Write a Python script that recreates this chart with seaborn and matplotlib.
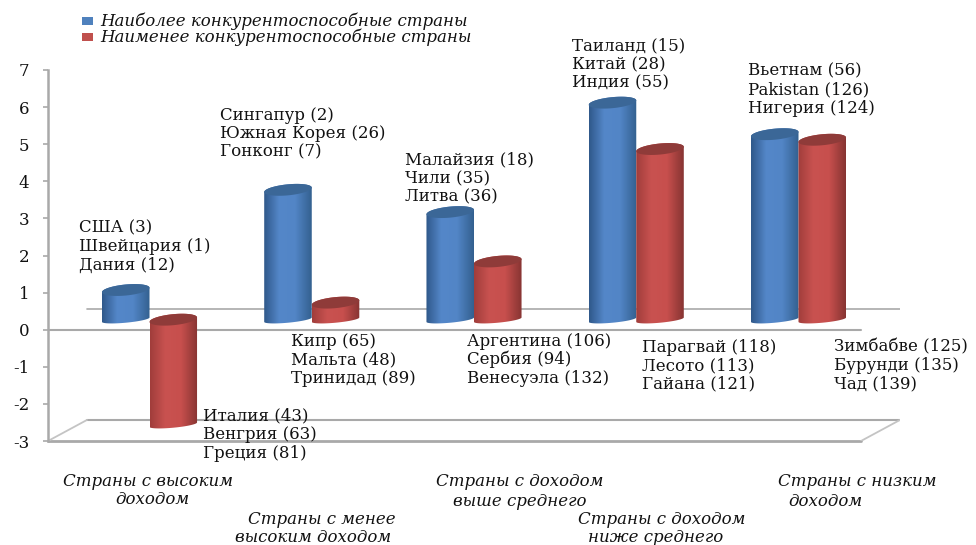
import numpy as np
import pandas as pd
import matplotlib
matplotlib.use('Agg')
import matplotlib.pyplot as plt
from matplotlib.colors import LinearSegmentedColormap
from matplotlib.patches import Polygon
import seaborn as sns

# Values
categories = ['Страны с высоким доходом', 'Страны с менее высоким доходом',
              'Страны с доходом выше среднего', 'Страны с доходом ниже среднего',
              'Страны с низким доходом']
most_competitive = [0.8, 3.5, 2.9, 5.85, 5.0]
least_competitive = [-2.83, 0.46, 1.57, 4.6, 4.85]
series_names = ['Наиболее конкурентоспособные страны', 'Наименее конкурентоспособные страны']
y_ticks = [-3, -2, -1, 0, 1, 2, 3, 4, 5, 6, 7]

top_labels = [
    ['США (3)', 'Швейцария (1)', 'Дания (12)'],
    ['Сингапур (2)', 'Южная Корея (26)', 'Гонконг (7)'],
    ['Малайзия (18)', 'Чили (35)', 'Литва (36)'],
    ['Таиланд (15)', 'Китай (28)', 'Индия (55)'],
    ['Вьетнам (56)', 'Pakistan (126)', 'Нигерия (124)'],
]
low_labels = [
    ['Италия (43)', 'Венгрия (63)', 'Греция (81)'],
    ['Кипр (65)', 'Мальта (48)', 'Тринидад (89)'],
    ['Аргентина (106)', 'Сербия (94)', 'Венесуэла (132)'],
    ['Парагвай (118)', 'Лесото (113)', 'Гайана (121)'],
    ['Зимбабве (125)', 'Бурунди (135)', 'Чад (139)'],
]
category_lines = [
    ['Страны с высоким', 'доходом'],
    ['Страны с менее', 'высоким доходом'],
    ['Страны с доходом', 'выше среднего'],
    ['Страны с доходом', 'ниже среднего'],
    ['Страны с низким', 'доходом'],
]

W, H = 976, 545
GREY = '#a9a9a9'
TEXT = '#111111'
FONT_SIZE = 12

sns.set_theme(style='white')
# the text in the picture is stretched sideways, DejaVu Serif has about that width
plt.rcParams['font.family'] = ['DejaVu Serif']
plt.rcParams['axes.unicode_minus'] = False

df = pd.DataFrame({
    'category': categories * 2,
    'series': [series_names[0]] * 5 + [series_names[1]] * 5,
    'value': most_competitive + least_competitive,
})

fig = plt.figure(figsize=(W / 100, H / 100), dpi=100)
# axes cover the y axis (x 48..900, y 70..441 in pixels)
ax = fig.add_axes([48 / W, 1 - 441 / H, 852 / W, 371 / H])

# the 3d floor sits a bit above the zero of the axis
base = 0.27
sns.barplot(data=df, x='category', y='value', hue='series', hue_order=series_names,
            palette=['#4f81bd', '#c0504d'], width=0.586, gap=0, bottom=base,
            saturation=1, legend=False, ax=ax)

ax.set_xlim(-0.6256, 4.6256)
ax.set_ylim(-3, 7)
ax.autoscale(False)

blue_map = LinearSegmentedColormap.from_list('b', [(0, '#2f588a'), (0.32, '#5487c9'), (0.65, '#5285c6'), (1, '#33608f')])
red_map = LinearSegmentedColormap.from_list('r', [(0, '#a03d3b'), (0.32, '#c95250'), (0.65, '#c74f4d'), (1, '#863432')])
gradient = np.linspace(0, 1, 256).reshape(1, -1)

cap_h = 5.5 / 37
tilt = 2.2 / 37


def arc(cx, cy, half_w, t, flat=1.0):
    return np.column_stack([cx + half_w * np.cos(t), cy + flat * cap_h * np.sin(t) + tilt * np.cos(t)])


z = 3
for container, cmap, cap_col in zip(ax.containers, [blue_map, red_map], ['#3b6797', '#8f3b39']):
    for bar in container:
        x0, w = bar.get_x(), bar.get_width()
        y0, h = bar.get_y(), bar.get_height()
        bar.set_visible(False)
        cx, half_w = x0 + w / 2, w / 2
        top, bot = max(y0, y0 + h), min(y0, y0 + h)
        outline = np.vstack([arc(cx, top, half_w, np.linspace(0, np.pi, 60)),
                             arc(cx, bot, half_w, np.linspace(np.pi, 2 * np.pi, 60), flat=0.55)])
        body = Polygon(outline, closed=True, facecolor='none', edgecolor='none', zorder=z)
        ax.add_patch(body)
        im = ax.imshow(gradient, extent=[x0, x0 + w, bot - 1, top + 1], cmap=cmap,
                       aspect='auto', zorder=z, interpolation='bilinear')
        im.set_clip_path(body)
        ax.add_patch(Polygon(arc(cx, top, half_w, np.linspace(0, 2 * np.pi, 80)), closed=True,
                             facecolor=cap_col, edgecolor='none', zorder=z))
        z += 1

# floor of the 3d frame
depth_y = 21 / 37
depth_x = 39 / 852
ax.axhline(0, 0, 1 - depth_x, color=GREY, lw=1.5, zorder=1)
ax.axhline(depth_y, depth_x, 1, color=GREY, lw=1.2, zorder=1)
ax.axhline(-3, 0, 1 - depth_x, color=GREY, lw=2.0, zorder=1, clip_on=False)
ax.axhline(-3 + depth_y, depth_x, 1, color=GREY, lw=1.5, zorder=1)
trans = ax.get_yaxis_transform()
ax.plot([0, depth_x], [-3, -3 + depth_y], color='#c4c4c4', lw=1.3, transform=trans, zorder=1)
ax.plot([1 - depth_x, 1], [-3, -3 + depth_y], color='#c4c4c4', lw=1.3, transform=trans, zorder=1)

sns.despine(ax=ax, top=True, right=True, bottom=True)
ax.spines['left'].set_color(GREY)
ax.spines['left'].set_linewidth(1.8)
ax.set_yticks(y_ticks)
ax.set_xticks([])
ax.set_xlabel('')
ax.set_ylabel('')
ax.tick_params(axis='y', left=True, length=3.6, width=1.2, color=GREY, pad=10, labelsize=FONT_SIZE, labelcolor=TEXT)


def put(x, y, s, **kw):
    fig.text(x / W, 1 - y / H, s, va='center', color=TEXT, **kw)


# pixel layout of the country lists: left edge and the y of each line
top_pos = [(79, 228), (220, 115), (405, 160), (572, 46), (748, 71)]
low_pos = [(203, 416), (291, 341), (467, 341), (642, 347), (834, 347)]
for lines, (x, y) in zip(top_labels + low_labels, top_pos + low_pos):
    for i, line in enumerate(lines):
        put(x, y + i * 18.6, line, fontsize=FONT_SIZE, ha='left')

# income group captions, second line is not quite centred under the first
cat_pos = [((148, 481), (152, 500)), ((322, 520), (313, 538)), ((520, 481), (520, 501)),
           ((662, 520), (656, 538)), ((857, 481), (825, 501))]
for lines, positions in zip(category_lines, cat_pos):
    for line, (x, y) in zip(lines, positions):
        put(x, y, line, fontsize=FONT_SIZE, style='italic', ha='center')

# legend
for name, colour, y in zip(series_names, ['#4f81bd', '#c0504d'], [21, 37]):
    fig.patches.append(plt.Rectangle((82 / W, 1 - (y + 4) / H), 11 / W, 8 / H, facecolor=colour,
                                     edgecolor='none', transform=fig.transFigure))
    put(100, y, name, fontsize=FONT_SIZE, style='italic', ha='left')

fig.savefig('out.png', dpi=100)
